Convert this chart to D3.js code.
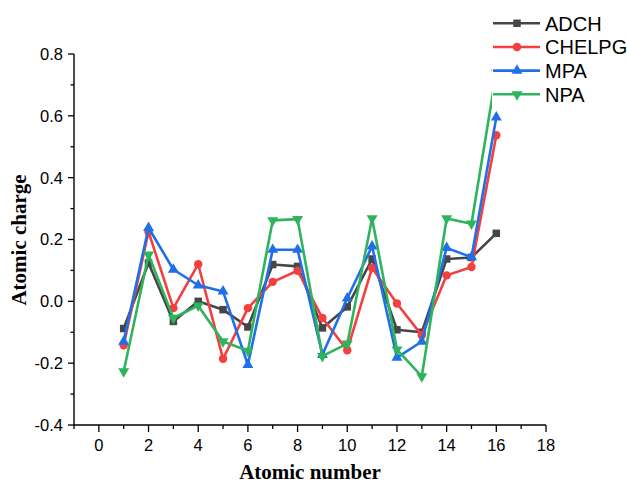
<!DOCTYPE html>
<html>
<head>
<meta charset="utf-8">
<script src="https://cdn.jsdelivr.net/npm/d3@7"></script>
<style>
  body { margin: 0; background: #fff; }
  svg { display: block; }
</style>
</head>
<body>
<svg id="chart" width="627" height="484"></svg>
<script>
// atomic numbers 1..16
const atoms = [1, 2, 3, 4, 5, 6, 7, 8, 9, 10, 11, 12, 13, 14, 15, 16];

// charges
const adch   = [-0.088, 0.124, -0.065, 0.000, -0.027, -0.083, 0.119, 0.113, -0.086, -0.018, 0.137, -0.092, -0.100, 0.137, 0.142, 0.220];
const chelpg = [-0.142, 0.225, -0.022, 0.120, -0.186, -0.022, 0.063, 0.099, -0.054, -0.158, 0.108, -0.007, -0.110, 0.084, 0.111, 0.537];
const mpa    = [-0.130, 0.238, 0.103, 0.052, 0.032, -0.205, 0.167, 0.167, -0.173, 0.010, 0.178, -0.182, -0.130, 0.173, 0.143, 0.595];
const npa    = [-0.227, 0.151, -0.054, -0.014, -0.130, -0.160, 0.262, 0.266, -0.177, -0.137, 0.268, -0.156, -0.243, 0.268, 0.251, 0.740];

const seriesNames = ["ADCH", "CHELPG", "MPA", "NPA"];
const seriesData = [adch, chelpg, mpa, npa];
const colors = ["#464646", "#f43f3f", "#1f6fe8", "#2db45d"];
const symbols = [d3.symbolSquare, d3.symbolCircle, d3.symbolTriangle, d3.symbolTriangle];

const xTicks = [0, 2, 4, 6, 8, 10, 12, 14, 16, 18];
const yTicks = [-0.4, -0.2, 0.0, 0.2, 0.4, 0.6, 0.8];

const svg = d3.select("#chart");

const x = d3.scaleLinear().domain([-1, 18]).range([74, 546]);
const y = d3.scaleLinear().domain([-0.4, 0.8]).range([425, 54]);

// minor ticks
const xMinor = d3.range(-1, 18, 2);
const yMinor = d3.range(-0.3, 0.8, 0.2);

// x axis
const xAxis = svg.append("g").attr("transform", "translate(0,425)");
xAxis.append("line")
    .attr("x1", x(-1)).attr("x2", x(18))
    .attr("stroke", "#000").attr("stroke-width", 1.4);
xAxis.selectAll(".major").data(xTicks).join("line")
    .attr("x1", d => x(d)).attr("x2", d => x(d))
    .attr("y1", 0).attr("y2", 7)
    .attr("stroke", "#000").attr("stroke-width", 1.3);
xAxis.selectAll(".minor").data(xMinor).join("line")
    .attr("x1", d => x(d)).attr("x2", d => x(d))
    .attr("y1", 0).attr("y2", 4)
    .attr("stroke", "#000").attr("stroke-width", 1.3);
xAxis.selectAll("text").data(xTicks).join("text")
    .attr("x", d => x(d))
    .attr("y", 26)
    .attr("text-anchor", "middle")
    .style("font-family", "Liberation Sans, Arial, sans-serif")
    .style("font-size", "16.5px")
    .text(d => d);

// y axis
const yAxis = svg.append("g").attr("transform", "translate(74,0)");
yAxis.append("line")
    .attr("y1", y(-0.4)).attr("y2", y(0.8))
    .attr("stroke", "#000").attr("stroke-width", 1.4);
yAxis.selectAll(".major").data(yTicks).join("line")
    .attr("y1", d => y(d)).attr("y2", d => y(d))
    .attr("x1", 0).attr("x2", -6)
    .attr("stroke", "#000").attr("stroke-width", 1.3);
yAxis.selectAll(".minor").data(yMinor).join("line")
    .attr("y1", d => y(d)).attr("y2", d => y(d))
    .attr("x1", 0).attr("x2", -3.5)
    .attr("stroke", "#000").attr("stroke-width", 1.3);
yAxis.selectAll("text").data(yTicks).join("text")
    .attr("x", -11)
    .attr("y", d => y(d))
    .attr("dy", "0.36em")
    .attr("text-anchor", "end")
    .style("font-family", "Liberation Sans, Arial, sans-serif")
    .style("font-size", "16.5px")
    .text(d => d.toFixed(1)); // plain hyphen like the original

// axis titles
svg.append("text")
    .attr("x", 310)
    .attr("y", 479)
    .attr("text-anchor", "middle")
    .style("font-family", "Liberation Serif, Times New Roman, serif")
    .style("font-weight", "bold")
    .style("font-size", "21px")
    .text("Atomic number");

svg.append("text")
    .attr("transform", "translate(26,240) rotate(-90)")
    .attr("text-anchor", "middle")
    .style("font-family", "Liberation Serif, Times New Roman, serif")
    .style("font-weight", "bold")
    .style("font-size", "21px")
    .text("Atomic charge");

// series
const line = d3.line().x((d, i) => x(atoms[i])).y(d => y(d));

seriesData.forEach((vals, s) => {
    const g = svg.append("g");
    g.append("path")
        .attr("d", line(vals))
        .attr("fill", "none")
        .attr("stroke", colors[s])
        .attr("stroke-width", 2.6)
        .attr("stroke-linejoin", "round");
    g.selectAll("path.m").data(vals).join("path")
        .attr("class", "m")
        .attr("transform", (d, i) => `translate(${x(atoms[i])},${y(d)})` + (s === 3 ? " rotate(180)" : ""))
        .attr("d", d3.symbol().type(symbols[s]).size(s >= 2 ? 52 : 56))
        .attr("fill", colors[s]);
});

// legend with white background
const legend = svg.append("g");
legend.append("rect")
    .attr("x", 492).attr("y", 6)
    .attr("width", 135).attr("height", 101)
    .attr("fill", "#fff");

const rowY = d3.scaleLinear().domain([0, 3]).range([23.3, 94.3]);
seriesNames.forEach((name, s) => {
    const ly = rowY(s);
    legend.append("line")
        .attr("x1", 493).attr("x2", 540)
        .attr("y1", ly).attr("y2", ly)
        .attr("stroke", colors[s]).attr("stroke-width", 2.6);
    legend.append("path")
        .attr("transform", `translate(517,${ly})` + (s === 3 ? " rotate(180)" : ""))
        .attr("d", d3.symbol().type(symbols[s]).size(s >= 2 ? 52 : 56))
        .attr("fill", colors[s]);
    legend.append("text")
        .attr("x", 545)
        .attr("y", ly)
        .attr("dy", "0.36em")
        .style("font-family", "Liberation Sans, Arial, sans-serif")
        .style("font-size", "20px")
        .text(name);
});
</script>
</body>
</html>
